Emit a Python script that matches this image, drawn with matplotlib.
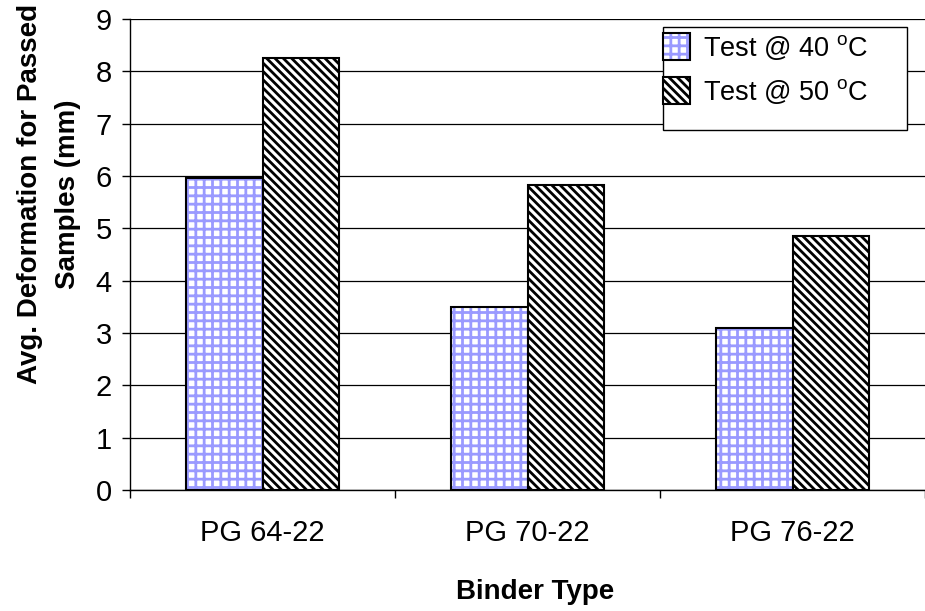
import matplotlib
matplotlib.use("Agg")
import matplotlib.pyplot as plt
from matplotlib.patches import Patch, Rectangle
import numpy as np

plt.rcParams['font.family'] = ['Liberation Sans', 'DejaVu Sans']
plt.rcParams['mathtext.fontset'] = 'custom'
plt.rcParams['mathtext.rm'] = 'Liberation Sans'
plt.rcParams['hatch.linewidth'] = 2.0

categories = ["PG 64-22", "PG 70-22", "PG 76-22"]
series_names = ["Test @ 40 $^{\\rm o}$C", "Test @ 50 $^{\\rm o}$C"]
test_40 = [5.97, 3.5, 3.1]
test_50 = [8.25, 5.82, 4.85]
yticks = list(range(0, 10))
xlabel = "Binder Type"
ylabel = "Avg. Deformation for Passed\nSamples (mm)"

W, H = 925, 611
fig = plt.figure(figsize=(W / 100, H / 100), dpi=100)
ax = fig.add_axes([130 / W, (H - 490) / H, 795 / W, 471 / H])

x = np.arange(len(categories))
bw = 0.29
blue = '#9a9aff'
diag = '\\' * 4

# 40 C bars: blue grid hatch, then black outline
ax.bar(x - bw / 2, test_40, bw, color='white', edgecolor=blue, hatch='++', linewidth=0, zorder=2)
ax.bar(x - bw / 2, test_40, bw, fill=False, edgecolor='black', linewidth=1.5, zorder=3)
# 50 C bars: black diagonal hatch
ax.bar(x + bw / 2, test_50, bw, color='white', edgecolor='black', hatch=diag, linewidth=1.5, zorder=3)

ax.set_xlim(-0.5, (925 - 264) / 268 - 0.0)
ax.set_ylim(0, 9)
ax.set_yticks(yticks)
ax.set_yticklabels([str(t) for t in yticks], fontsize=21)
ax.yaxis.grid(True, color='black', linewidth=0.9, zorder=0)
ax.set_axisbelow(True)

ax.set_xticks([-0.5, 0.5, 1.5, 2.5])
ax.set_xticklabels([])
ax.set_xticks(x, minor=True)
ax.set_xticklabels(categories, minor=True, fontsize=21)
ax.tick_params(axis='x', which='major', direction='out', length=6, width=1, color='black')
ax.tick_params(axis='x', which='minor', length=0, pad=21)
ax.tick_params(axis='y', direction='out', length=6, width=1, pad=7)

for s in ['top', 'right']:
    ax.spines[s].set_visible(False)
for s in ['left', 'bottom']:
    ax.spines[s].set_color('black')
    ax.spines[s].set_linewidth(1)

fig.text(535 / W, 1 - 592 / H, xlabel, fontsize=20, fontweight='bold', ha='center', va='center')
fig.text(49 / W, 1 - 194 / H, ylabel, fontsize=20, fontweight='bold', ha='center', va='center',
         rotation=90, linespacing=1.6)

# legend frame
fx0, fy0, fx1, fy1 = 663, 27, 907, 130
fig.patches.append(Rectangle((fx0 / W, 1 - fy1 / H), (fx1 - fx0) / W, (fy1 - fy0) / H,
                             transform=fig.transFigure, facecolor='white', edgecolor='black',
                             linewidth=1, zorder=5))
h1 = (Patch(facecolor='white', edgecolor=blue, hatch='++', linewidth=0),
      Patch(fill=False, edgecolor='black', linewidth=1.5))
h2 = Patch(facecolor='white', edgecolor='black', hatch=diag, linewidth=1.5)
leg = fig.legend([h1, h2], series_names, loc='upper left',
                 bbox_to_anchor=(641 / W, 1 - 11 / H), frameon=False, fontsize=19.5,
                 handlelength=1.0, handleheight=1.2, handletextpad=0.5, labelspacing=0.55,
                 borderpad=0.3)
leg.set_zorder(6)

fig.savefig("out.png", dpi=100)
